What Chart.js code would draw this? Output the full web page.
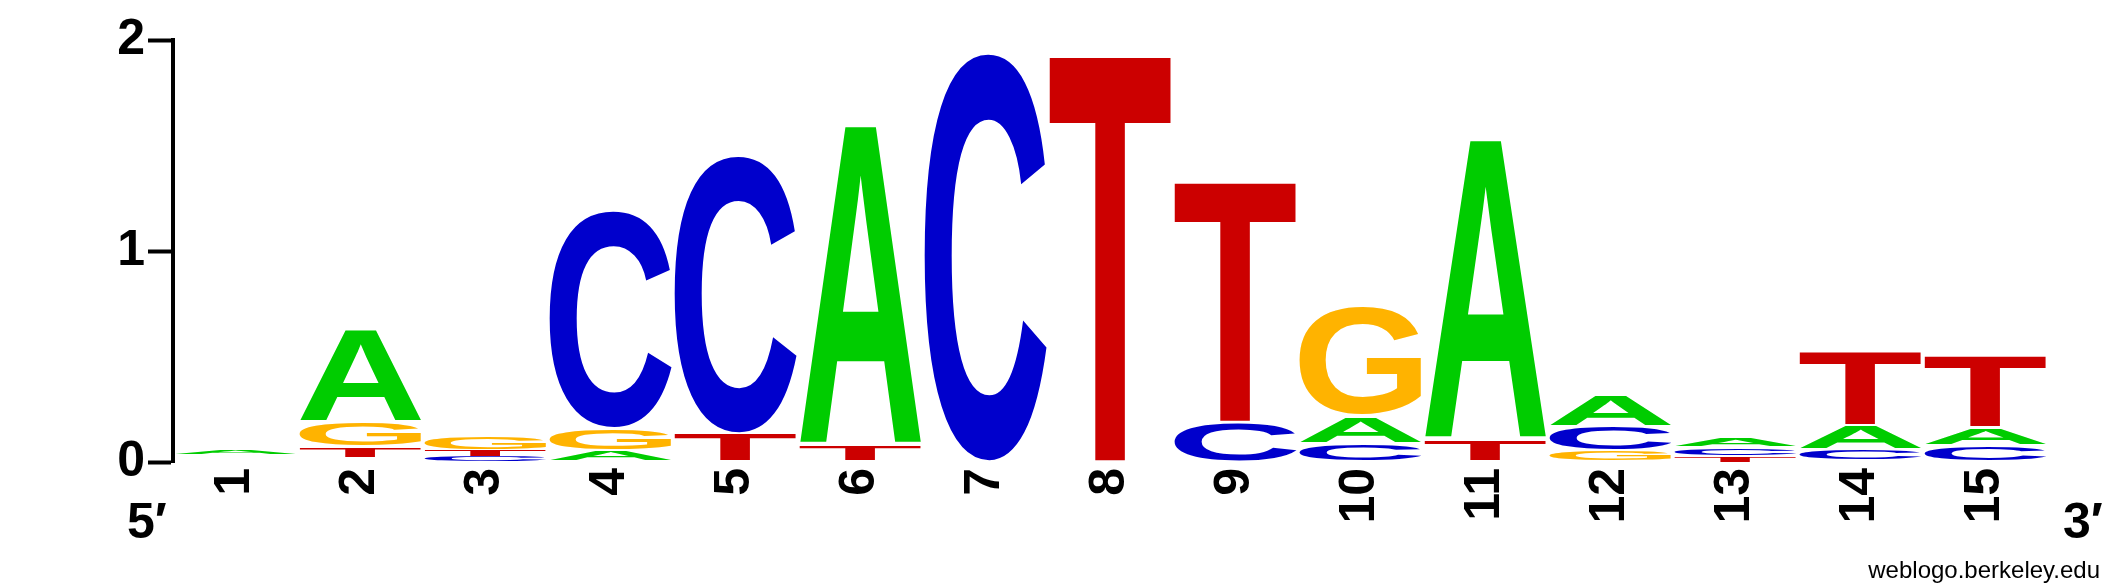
<!DOCTYPE html>
<html>
<head>
<meta charset="utf-8">
<script src="https://cdn.jsdelivr.net/npm/chart.js@4.4.1/dist/chart.umd.min.js"></script>
<style>
  html, body { margin: 0; padding: 0; background: #fff; }
  #wrap { width: 2125px; height: 588px; }
</style>
</head>
<body>
<div id="wrap"><canvas id="logo" width="2125" height="588"></canvas></div>
<script>
// sequence positions and information content (bits) per base
const positions = ['1', '2', '3', '4', '5', '6', '7', '8', '9', '10', '11', '12', '13', '14', '15'];
const bitsA = [0.016, 0.440, 0.000, 0.055, 0.000, 1.517, 0.000, 0.000, 0.000, 0.130, 1.424, 0.150, 0.048, 0.114, 0.083];
const bitsC = [0.013, 0.018, 0.027, 1.034, 1.320, 0.000, 1.940, 0.000, 0.190, 0.090, 0.000, 0.117, 0.042, 0.054, 0.075];
const bitsG = [0.013, 0.117, 0.064, 0.105, 0.000, 0.000, 0.000, 0.000, 0.000, 0.515, 0.000, 0.054, 0.000, 0.006, 0.005];
const bitsT = [0.013, 0.055, 0.030, 0.000, 0.135, 0.080, 0.000, 1.940, 1.146, 0.000, 0.106, 0.000, 0.027, 0.355, 0.340];
const yTicks = [0, 1, 2];

const letters = { A: bitsA, C: bitsC, G: bitsG, T: bitsT };
const colours = { A: '#00cc00', C: '#0000cc', G: '#ffb300', T: '#cc0000' };

// stack layers: smallest letter at the bottom of each column
const layers = [0, 1, 2, 3].map(() => ({ data: [], letter: [] }));
positions.forEach((p, i) => {
    const order = Object.keys(letters).sort((a, b) => letters[a][i] - letters[b][i]);
    order.forEach((l, k) => {
        layers[k].data.push(letters[l][i]);
        layers[k].letter.push(l);
    });
});

function drawGlyph(ctx, ch, colour, left, top, w, h) {
    ctx.save();
    ctx.font = 'bold 200px "Liberation Sans", Arial, sans-serif';
    ctx.textAlign = 'left';
    ctx.textBaseline = 'alphabetic';
    const m = ctx.measureText(ch);
    const gw = m.actualBoundingBoxLeft + m.actualBoundingBoxRight;
    const gh = m.actualBoundingBoxAscent + m.actualBoundingBoxDescent;
    ctx.translate(left, top);
    ctx.scale(w / gw, h / gh);
    ctx.fillStyle = colour;
    ctx.fillText(ch, m.actualBoundingBoxLeft, m.actualBoundingBoxAscent);
    ctx.restore();
}

const letterPlugin = {
    id: 'letters',
    afterDatasetsDraw(chart) {
        const ctx = chart.ctx;
        const last = chart.data.datasets.length - 1;
        chart.data.datasets.forEach((ds, di) => {
            const meta = chart.getDatasetMeta(di);
            meta.data.forEach((bar, i) => {
                const { x, y, base, width } = bar.getProps(['x', 'y', 'base', 'width'], true);
                let top = Math.min(y, base);
                let h = Math.abs(base - y);
                // tiny letters vanish, except the top one of a stack
                if (h < 1 || (h < 3.3 && di !== last)) return;
                if (h > 8) { top += 1.2; h -= 2.4; }
                const ch = ds.letters[i];
                drawGlyph(ctx, ch, colours[ch], x - width / 2, top, width, Math.max(h, 2));
            });
        });
    },
    afterDraw(chart) {
        const ctx = chart.ctx;
        ctx.save();
        ctx.fillStyle = '#000';
        ctx.textBaseline = 'alphabetic';
        ctx.font = 'bold 50px "Liberation Sans", Arial, sans-serif';
        ctx.textAlign = 'left';
        ctx.fillText('5\u2032', 127, 538);
        ctx.fillText('3\u2032', 2063, 538);
        ctx.font = '24px "Liberation Sans", Arial, sans-serif';
        ctx.textAlign = 'right';
        ctx.fillText('weblogo.berkeley.edu', 2100, 578);
        ctx.restore();
    }
};

const ctx = document.getElementById('logo');
const logo = new Chart(ctx, {
    type: 'bar',
    data: {
        labels: positions,
        datasets: layers.map((layer, k) => ({
            label: 'layer ' + (k + 1),
            data: layer.data,
            letters: layer.letter,
            backgroundColor: 'rgba(0,0,0,0)',
            borderWidth: 0,
            stack: 'logo',
            barPercentage: 0.976,
            categoryPercentage: 1
        }))
    },
    options: {
        responsive: false,
        animation: false,
        events: [],
        layout: { padding: { top: 40, right: 77, left: 0, bottom: 0 } },
        plugins: {
            legend: { display: false },
            tooltip: { enabled: false }
        },
        scales: {
            x: {
                stacked: true,
                grid: { display: false, drawTicks: false },
                border: { display: false },
                ticks: {
                    autoSkip: false,
                    maxRotation: 90,
                    minRotation: 90,
                    padding: 6,
                    color: '#000',
                    font: { family: '"Liberation Sans", Arial, sans-serif', size: 50, weight: 'bold' }
                },
                afterFit(scale) { scale.height = 126; }
            },
            y: {
                stacked: true,
                min: 0,
                max: 2,
                afterBuildTicks(scale) { scale.ticks = yTicks.map(v => ({ value: v })); },
                grid: {
                    drawOnChartArea: false,
                    tickLength: 25,
                    tickWidth: 4,
                    color: '#000'
                },
                border: { display: true, color: '#000', width: 4 },
                ticks: {
                    padding: 3,
                    color: '#000',
                    font: { family: '"Liberation Sans", Arial, sans-serif', size: 50, weight: 'bold' }
                },
                afterFit(scale) { scale.width = 173; }
            }
        }
    },
    plugins: [letterPlugin]
});
</script>
</body>
</html>
